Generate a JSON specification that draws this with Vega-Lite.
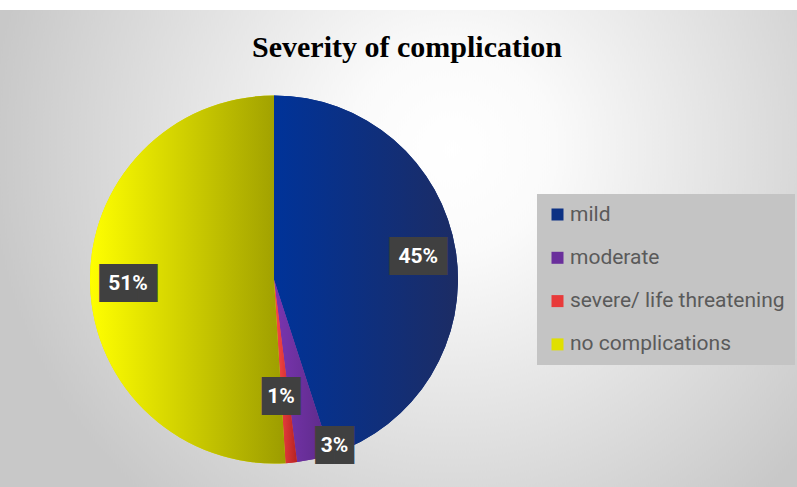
{
  "$schema": "https://vega.github.io/schema/vega-lite/v6.json",
  "width": 1046,
  "height": 539,
  "autosize": {"type": "none"},
  "padding": {"left": -249, "top": 10, "right": 0, "bottom": -62},
  "background": "#ffffff",
  "title": {
    "text": "Severity of complication",
    "font": "Liberation Serif",
    "fontSize": 30,
    "fontWeight": "bold",
    "color": "#000000",
    "anchor": "middle",
    "frame": "group",
    "dx": 133,
    "offset": -77,
    "baseline": "alphabetic"
  },
  "data": {
    "values": [
      {"category": "mild", "percent": 45, "label": "45%"},
      {"category": "moderate", "percent": 3, "label": "3%"},
      {"category": "severe/ life threatening", "percent": 1, "label": "1%"},
      {"category": "no complications", "percent": 51, "label": "51%"}
    ]
  },
  "transform": [
    {"stack": "percent", "groupby": [], "as": ["s0", "s1"]},
    {"calculate": "(datum.s0 + datum.s1) / 2", "as": "mid"},
    {"calculate": "length(datum.label) > 2 ? '███' : '██'", "as": "box"}
  ],
  "layer": [
    {
      "transform": [{"filter": "datum.category == 'mild'"}],
      "mark": {"type": "arc", "radius": 700, "strokeWidth": 0, "clip": true,
        "color": {"gradient": "radial", "x1": 0.627, "y1": 0.407, "r1": 0, "x2": 0.627, "y2": 0.407, "r2": 0.33,
          "stops": [{"offset": 0, "color": "#ffffff"}, {"offset": 0.22, "color": "#fafafa"}, {"offset": 1, "color": "#c8c8c8"}]}},
      "encoding": {
        "theta": {"datum": 0, "type": "quantitative", "scale": {"domain": [0, 100]}},
        "theta2": {"datum": 100}
      }
    },
    {
      "mark": {"type": "arc", "radius": 184, "strokeWidth": 0},
      "encoding": {
        "theta": {"field": "s0", "type": "quantitative", "stack": null, "scale": {"domain": [0, 100]}},
        "theta2": {"field": "s1"},
        "color": {
          "field": "category",
          "type": "nominal",
          "sort": null,
          "scale": {
            "domain": ["mild", "moderate", "severe/ life threatening", "no complications"],
            "range": ["#0c3184", "#6a2f9c", "#e83a3a", "#e0e000"]
          },
          "legend": {
            "orient": "none",
            "legendX": 786,
            "legendY": 184,
            "title": null,
            "fillColor": "#c4c4c4",
            "padding": 10,
            "symbolType": "square",
            "symbolSize": 144,
            "symbolStrokeWidth": 0,
            "labelFont": "Roboto",
            "labelFontSize": 21,
            "labelColor": "#5a5a5a",
            "labelLimit": 400,
            "rowPadding": 21.3,
            "labelOffset": 2
          }
        }
      }
    },
    {
      "transform": [{"filter": "datum.category == 'mild'"}],
      "mark": {"type": "arc", "radius": 184, "strokeWidth": 0,
        "color": {"gradient": "linear", "x1": 0, "y1": 0, "x2": 1, "y2": 0, "stops": [{"offset": 0, "color": "#003399"}, {"offset": 1, "color": "#1c2c64"}]}},
      "encoding": {
        "theta": {"field": "s0", "type": "quantitative", "stack": null, "scale": {"domain": [0, 100]}},
        "theta2": {"field": "s1"}
      }
    },
    {
      "transform": [{"filter": "datum.category == 'moderate'"}],
      "mark": {"type": "arc", "radius": 184, "strokeWidth": 0,
        "color": {"gradient": "linear", "x1": 0, "y1": 0, "x2": 1, "y2": 0, "stops": [{"offset": 0, "color": "#7a35b0"}, {"offset": 1, "color": "#5b2a87"}]}},
      "encoding": {
        "theta": {"field": "s0", "type": "quantitative", "stack": null, "scale": {"domain": [0, 100]}},
        "theta2": {"field": "s1"}
      }
    },
    {
      "transform": [{"filter": "datum.category == 'severe/ life threatening'"}],
      "mark": {"type": "arc", "radius": 184, "strokeWidth": 0,
        "color": {"gradient": "linear", "x1": 0, "y1": 0, "x2": 1, "y2": 0, "stops": [{"offset": 0, "color": "#ff4a4a"}, {"offset": 1, "color": "#b52222"}]}},
      "encoding": {
        "theta": {"field": "s0", "type": "quantitative", "stack": null, "scale": {"domain": [0, 100]}},
        "theta2": {"field": "s1"}
      }
    },
    {
      "transform": [{"filter": "datum.category == 'no complications'"}],
      "mark": {"type": "arc", "radius": 184, "strokeWidth": 0,
        "color": {"gradient": "linear", "x1": 0, "y1": 0, "x2": 1, "y2": 0, "stops": [{"offset": 0, "color": "#ffff00"}, {"offset": 1, "color": "#9c9c00"}]}},
      "encoding": {
        "theta": {"field": "s0", "type": "quantitative", "stack": null, "scale": {"domain": [0, 100]}},
        "theta2": {"field": "s1"}
      }
    },
    {
      "transform": [{"filter": "datum.percent > 10"}],
      "mark": {"type": "text", "radius": 146, "font": "DejaVu Sans Mono", "fontSize": 32, "color": "#404040", "align": "center", "baseline": "middle"},
      "encoding": {
        "theta": {"field": "mid", "type": "quantitative", "stack": null, "scale": {"domain": [0, 100]}},
        "text": {"field": "box"}
      }
    },
    {
      "transform": [{"filter": "datum.percent == 1"}],
      "mark": {"type": "text", "radius": 118, "thetaOffset": 0.035, "font": "DejaVu Sans Mono", "fontSize": 32, "color": "#404040", "align": "center", "baseline": "middle"},
      "encoding": {
        "theta": {"field": "mid", "type": "quantitative", "stack": null, "scale": {"domain": [0, 100]}},
        "text": {"field": "box"}
      }
    },
    {
      "transform": [{"filter": "datum.percent == 3"}],
      "mark": {"type": "text", "radius": 177, "thetaOffset": -0.129, "font": "DejaVu Sans Mono", "fontSize": 32, "color": "#404040", "align": "center", "baseline": "middle"},
      "encoding": {
        "theta": {"field": "mid", "type": "quantitative", "stack": null, "scale": {"domain": [0, 100]}},
        "text": {"field": "box"}
      }
    },
    {
      "transform": [{"filter": "datum.percent > 10"}],
      "mark": {"type": "text", "radius": 146, "font": "Roboto", "fontWeight": "bold", "fontSize": 21, "color": "#ffffff", "align": "center", "baseline": "middle"},
      "encoding": {
        "theta": {"field": "mid", "type": "quantitative", "stack": null, "scale": {"domain": [0, 100]}},
        "text": {"field": "label"}
      }
    },
    {
      "transform": [{"filter": "datum.percent == 1"}],
      "mark": {"type": "text", "radius": 118, "thetaOffset": 0.035, "font": "Roboto", "fontWeight": "bold", "fontSize": 21, "color": "#ffffff", "align": "center", "baseline": "middle"},
      "encoding": {
        "theta": {"field": "mid", "type": "quantitative", "stack": null, "scale": {"domain": [0, 100]}},
        "text": {"field": "label"}
      }
    },
    {
      "transform": [{"filter": "datum.percent == 3"}],
      "mark": {"type": "text", "radius": 177, "thetaOffset": -0.129, "font": "Roboto", "fontWeight": "bold", "fontSize": 21, "color": "#ffffff", "align": "center", "baseline": "middle"},
      "encoding": {
        "theta": {"field": "mid", "type": "quantitative", "stack": null, "scale": {"domain": [0, 100]}},
        "text": {"field": "label"}
      }
    }
  ],
  "config": {
    "view": {"stroke": null}
  }
}
